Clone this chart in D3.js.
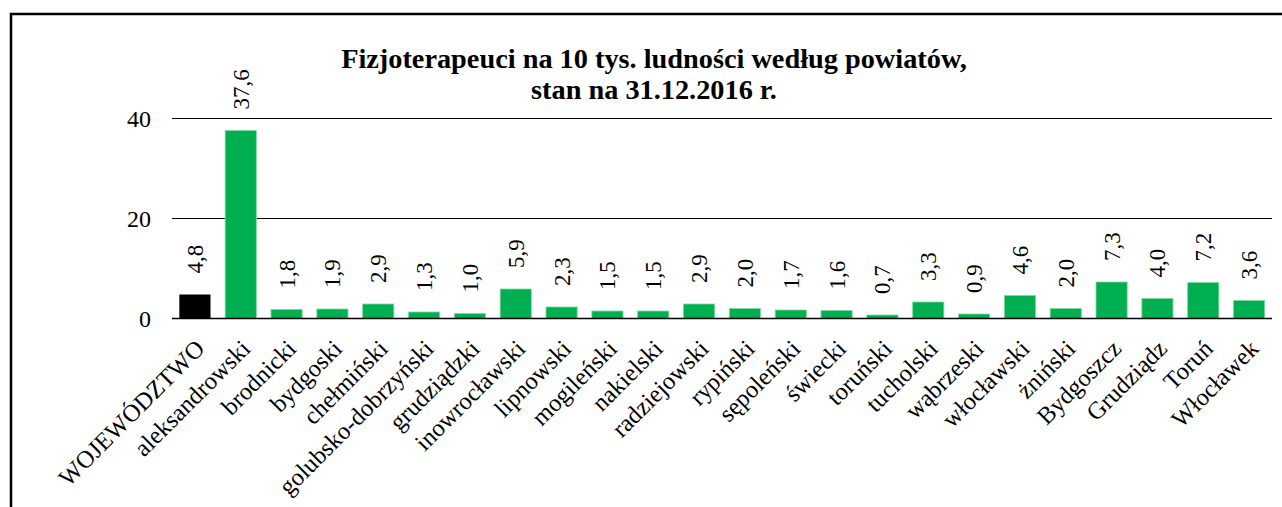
<!DOCTYPE html>
<html>
<head>
<meta charset="utf-8">
<script src="https://cdn.jsdelivr.net/npm/d3@7/dist/d3.min.js"></script>
<style>
  html, body { margin: 0; padding: 0; background: #fff; }
  svg { display: block; }
  text { font-family: "Liberation Serif", "Times New Roman", serif; fill: #000; }
</style>
</head>
<body>
<svg id="chart" width="1282" height="507"></svg>
<script>
// Physiotherapists per 10k inhabitants, by district (Kuyavian-Pomeranian), 31.12.2016
const categories = [
  "WOJEWÓDZTWO", "aleksandrowski", "brodnicki", "bydgoski", "chełmiński",
  "golubsko-dobrzyński", "grudziądzki", "inowrocławski", "lipnowski", "mogileński",
  "nakielski", "radziejowski", "rypiński", "sępoleński", "świecki",
  "toruński", "tucholski", "wąbrzeski", "włocławski", "żniński",
  "Bydgoszcz", "Grudziądz", "Toruń", "Włocławek"
];
const values = [
  4.8, 37.6, 1.8, 1.9, 2.9,
  1.3, 1.0, 5.9, 2.3, 1.5,
  1.5, 2.9, 2.0, 1.7, 1.6,
  0.7, 3.3, 0.9, 4.6, 2.0,
  7.3, 4.0, 7.2, 3.6
];
const yTicks = [0, 20, 40];
const titleLines = ["Fizjoterapeuci na 10 tys. ludności według powiatów,", "stan na 31.12.2016 r."];

const svg = d3.select("#chart");

// outer frame
svg.append("rect")
  .attr("x", 11).attr("y", 14)
  .attr("width", 1400).attr("height", 600)
  .attr("fill", "none").attr("stroke", "#000").attr("stroke-width", 2.5);

const plot = { left: 172, right: 1272, top: 118.5, bottom: 318.5 };

const x = d3.scaleBand()
  .domain(categories)
  .range([plot.left, plot.right])
  .paddingInner(0.32)
  .paddingOuter(0.16);

const y = d3.scaleLinear()
  .domain([0, 40])
  .range([plot.bottom, plot.top]);

// gridlines
svg.append("g")
  .selectAll("line")
  .data(yTicks.filter(d => d > 0))
  .join("line")
  .attr("x1", plot.left).attr("x2", plot.right)
  .attr("y1", d => y(d)).attr("y2", d => y(d))
  .attr("stroke", "#000").attr("stroke-width", 1);

// y tick labels
svg.append("g")
  .selectAll("text")
  .data(yTicks)
  .join("text")
  .attr("x", 151)
  .attr("y", d => y(d))
  .attr("dy", "0.35em")
  .attr("text-anchor", "end")
  .attr("font-size", 24)
  .text(d => d);

// bars
svg.append("g")
  .selectAll("rect")
  .data(categories)
  .join("rect")
  .attr("x", d => x(d))
  .attr("width", x.bandwidth())
  .attr("y", (d, i) => y(values[i]))
  .attr("height", (d, i) => y(0) - y(values[i]))
  .attr("fill", (d, i) => i === 0 ? "#000" : "#00B050")
  .attr("stroke", (d, i) => i === 0 ? "none" : "#7fd9a3")
  .attr("stroke-width", 0.8);

// x axis line
svg.append("line")
  .attr("x1", plot.left).attr("x2", plot.right)
  .attr("y1", y(0)).attr("y2", y(0))
  .attr("stroke", "#000").attr("stroke-width", 1.5);

const fmt = v => d3.format(".1f")(v).replace(".", ",");

// value labels (vertical)
svg.append("g")
  .selectAll("text")
  .data(categories)
  .join("text")
  .attr("transform", (d, i) => {
    const cx = x(d) + x.bandwidth() / 2;
    const cy = y(values[i]) - 21;
    return `translate(${cx},${cy}) rotate(-90)`;
  })
  .attr("dy", "0.35em")
  .attr("text-anchor", "start")
  .attr("font-size", 23)
  .text((d, i) => fmt(values[i]));

// category labels (rotated -45)
svg.append("g")
  .selectAll("text")
  .data(categories)
  .join("text")
  .attr("transform", d => {
    const cx = x(d) + x.bandwidth() / 2 + 5;
    return `translate(${cx},344) rotate(-45)`;
  })
  .attr("dy", "0.35em")
  .attr("text-anchor", "end")
  .attr("font-size", 24.5)
  .text(d => d);

// title
svg.append("g")
  .selectAll("text")
  .data(titleLines)
  .join("text")
  .attr("x", 654)
  .attr("y", (d, i) => 68 + i * 31)
  .attr("text-anchor", "middle")
  .attr("font-size", 28.3)
  .attr("font-weight", "bold")
  .text(d => d);
</script>
</body>
</html>
